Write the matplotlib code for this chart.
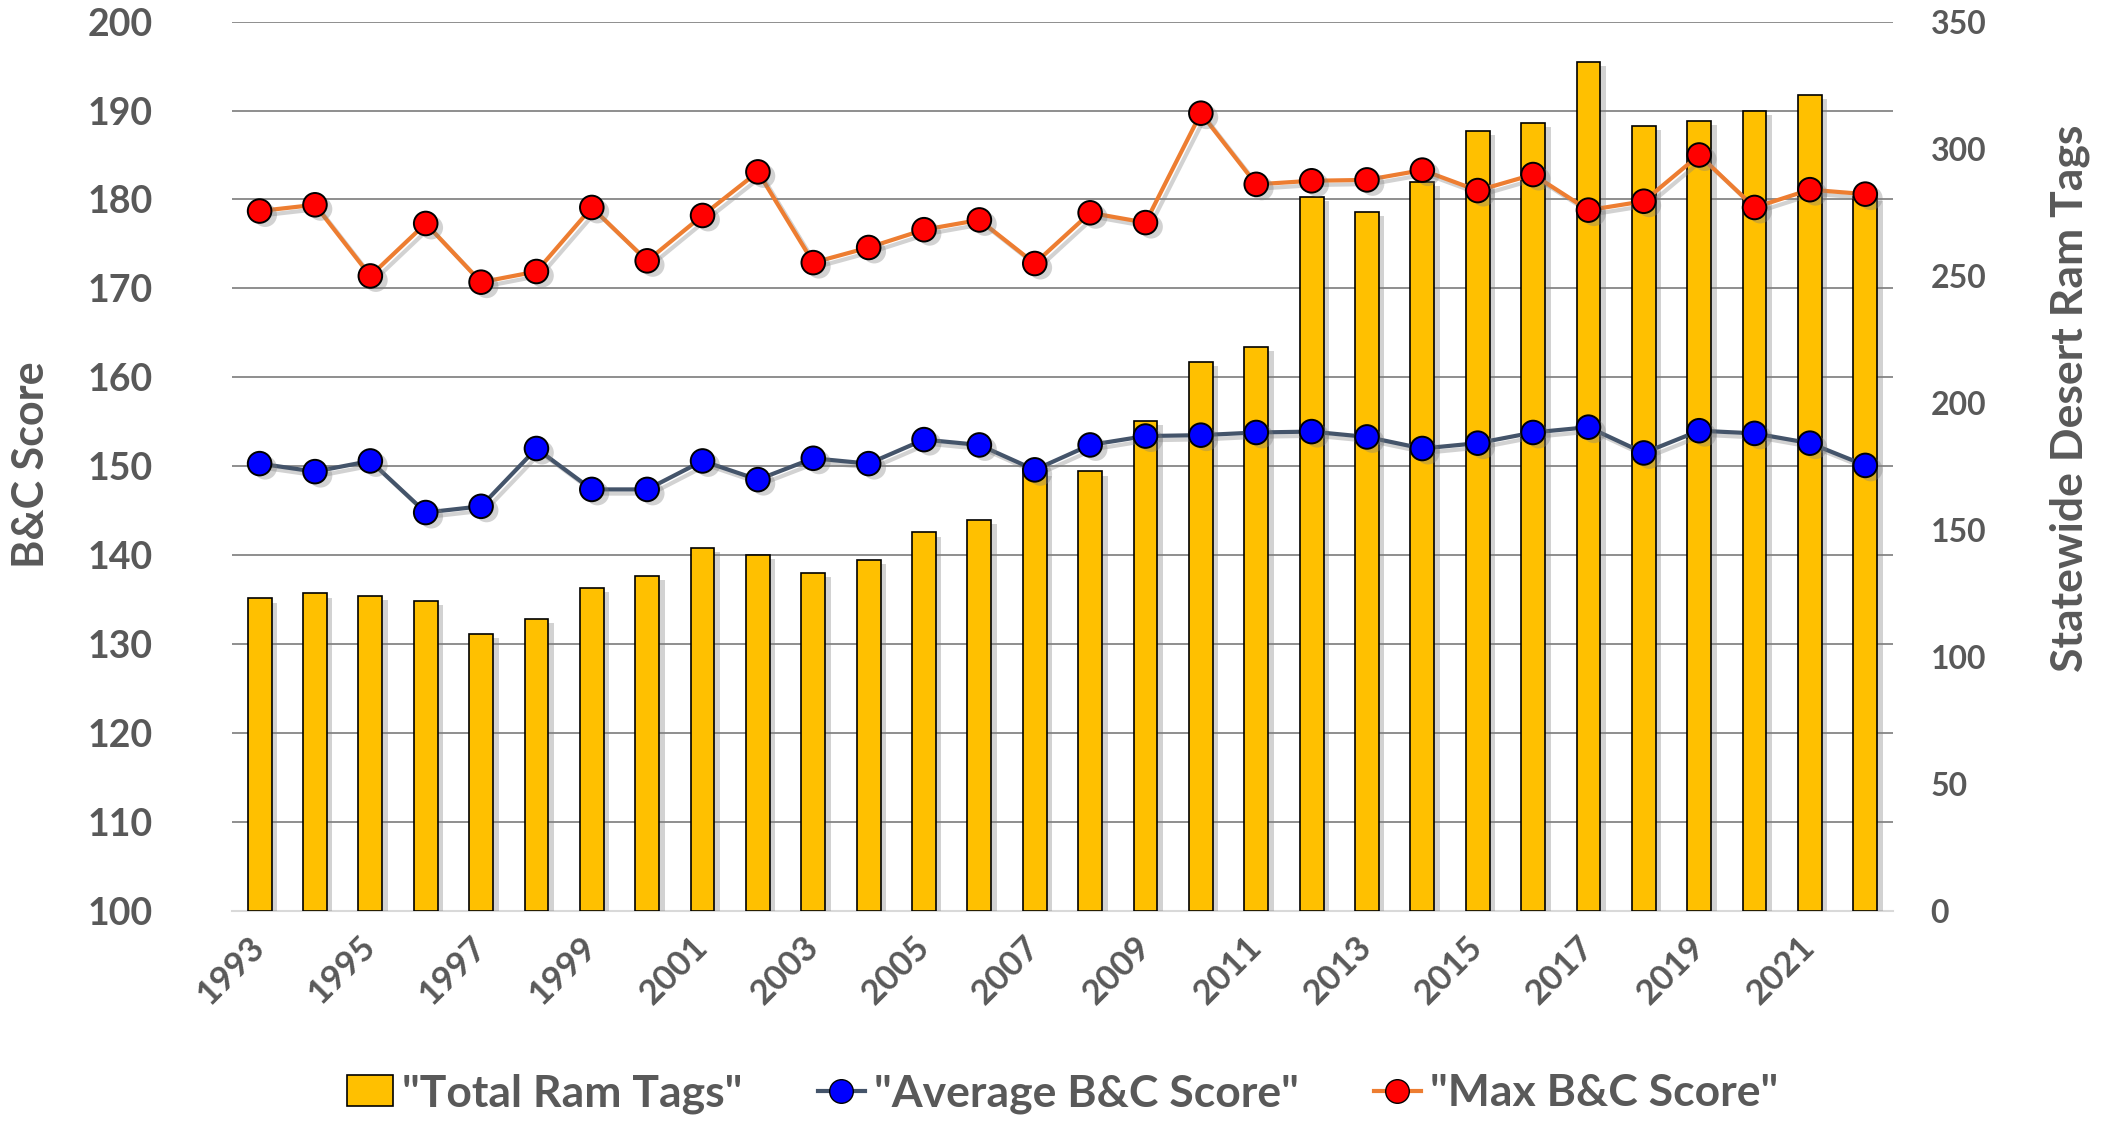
import matplotlib
matplotlib.use("Agg")
import matplotlib.pyplot as plt
import matplotlib.patheffects as pe
from matplotlib.lines import Line2D
from matplotlib.patches import Patch
import numpy as np

# data
years = list(range(1993, 2023))
ram_tags = [123, 125, 124, 122, 109, 115, 127, 132, 143, 140,
            133, 138, 149, 154, 173, 173, 193, 216, 222, 281,
            275, 287, 307, 310, 334, 309, 311, 315, 321, 281]
avg_score = [150.3, 149.4, 150.6, 144.8, 145.5, 152.0, 147.4, 147.4, 150.6, 148.5,
             150.9, 150.3, 153.0, 152.4, 149.6, 152.4, 153.4, 153.5, 153.8, 153.9,
             153.3, 152.0, 152.6, 153.8, 154.4, 151.5, 154.0, 153.7, 152.6, 150.1]
max_score = [178.7, 179.4, 171.4, 177.3, 170.7, 171.9, 179.1, 173.1, 178.2, 183.1,
             172.9, 174.6, 176.6, 177.7, 172.8, 178.5, 177.4, 189.7, 181.7, 182.1,
             182.2, 183.3, 181.0, 182.8, 178.8, 179.8, 185.0, 179.1, 181.1, 180.6]

grey = "#595959"
bar_col = "#FFC000"
avg_col = "#44546A"
max_col = "#ED7D31"
plt.rcParams['font.family'] = ['Lato', 'DejaVu Sans']
plt.rcParams['font.weight'] = 'bold'

fig = plt.figure(figsize=(21.16, 11.24), dpi=100)
ax = fig.add_axes([0.1096, 0.1895, 0.785, 0.7913])
x = np.arange(len(years))

# left scale axis: ticks + grid
ax.set_ylim(100, 200)
ax.set_yticks(np.arange(100, 201, 10))
ax.yaxis.grid(True, color="#868686", lw=1.3)
ax.set_axisbelow(True)
ax.tick_params(axis='y', length=0, pad=57, labelsize=27, labelcolor=grey)
ax.set_xlim(-0.5, len(years) - 0.5)
ax.set_xticks(x[::2])
ax.set_xticklabels([str(y) for y in years[::2]])
ax.tick_params(axis='x', length=0, pad=22, labelsize=25, labelcolor=grey)
plt.setp(ax.get_xticklabels(), rotation=45, ha='right', va='center', rotation_mode='anchor')
for s in ['top', 'left', 'right']:
    ax.spines[s].set_visible(False)
ax.spines['bottom'].set_color("#D9D9D9")
ax.spines['bottom'].set_linewidth(1.5)

# bars on right scale
axb = ax.twinx()
shadow = [pe.SimplePatchShadow(offset=(4, -3), shadow_rgbFace='#808080', alpha=0.35), pe.Normal()]
axb.bar(x, ram_tags, width=0.43, color=bar_col, edgecolor='black', linewidth=1.2,
        path_effects=shadow)
axb.set_ylim(0, 350)
axb.set_yticks(np.arange(0, 351, 50))
axb.tick_params(axis='y', length=0, pad=27, labelsize=23, labelcolor=grey)
for s in axb.spines.values():
    s.set_visible(False)

# lines on left scale
axl = ax.twinx()
axl.set_ylim(100, 200)
axl.set_yticks([])
for s in axl.spines.values():
    s.set_visible(False)
line_shadow = [pe.SimpleLineShadow(offset=(3, -3), shadow_color='#808080', alpha=0.35), pe.Normal()]
axl.plot(x, avg_score, color=avg_col, lw=3, path_effects=line_shadow)
axl.plot(x, max_score, color=max_col, lw=3, path_effects=line_shadow)
axl.plot(x, avg_score, ls='none', marker='o', ms=17, mfc='#0000FF', mec='black', mew=1.4,
         path_effects=shadow)
axl.plot(x, max_score, ls='none', marker='o', ms=17, mfc='#FF0000', mec='black', mew=1.4,
         path_effects=shadow)

fig.text(0.0147, 0.587, "B&C Score", rotation=90, ha='center', va='center',
         fontsize=31, color=grey, fontweight='bold')
fig.text(0.978, 0.646, "Statewide Desert Ram Tags", rotation=90, ha='center', va='center',
         fontsize=32, color=grey, fontweight='bold')

handles = [Patch(facecolor=bar_col, edgecolor='black', linewidth=1.2),
           Line2D([], [], color=avg_col, lw=3, marker='o', ms=17, mfc='#0000FF', mec='black'),
           Line2D([], [], color=max_col, lw=3, marker='o', ms=17, mfc='#FF0000', mec='black')]
labels = ['"Total Ram Tags"', '"Average B&C Score"', '"Max B&C Score"']
leg = fig.legend(handles, labels, loc='center', bbox_to_anchor=(0.502, 0.027), ncol=3,
                 frameon=False, fontsize=32, handlelength=1.05, handletextpad=0.2,
                 columnspacing=1.7)
for t in leg.get_texts():
    t.set_color(grey)

fig.savefig("out.png", dpi=100)
